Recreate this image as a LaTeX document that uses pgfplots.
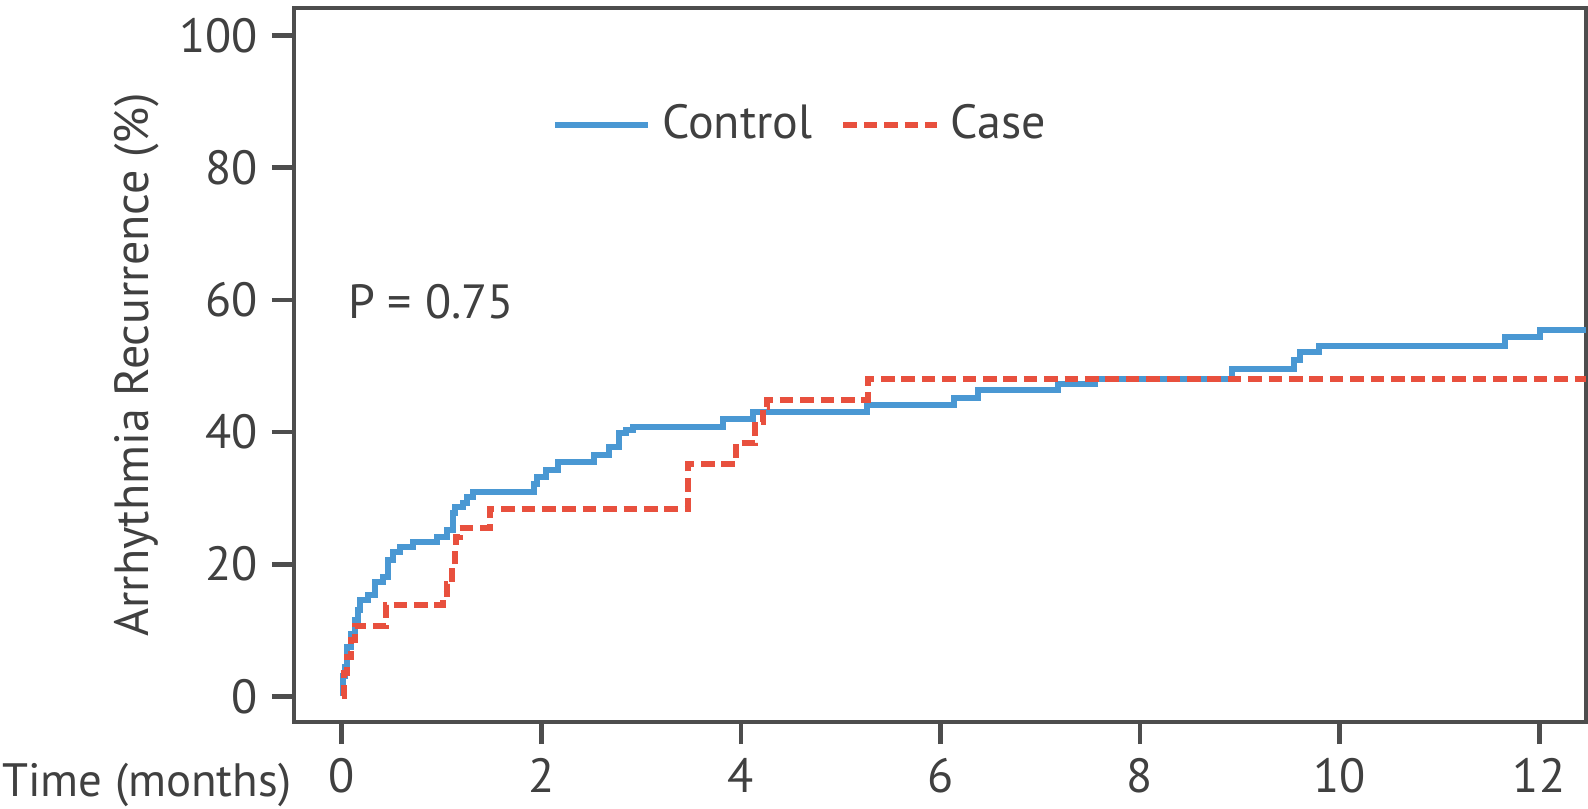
\documentclass[border=0pt]{standalone}
\usepackage{pgfplots}
\pgfplotsset{compat=1.18}
\usepackage{fontspec}
\setmainfont{PT Sans}
\definecolor{ctrlblue}{HTML}{4A98D3}
\definecolor{casered}{HTML}{E8503E}
\definecolor{txtgray}{HTML}{404040}
\definecolor{axgray}{HTML}{4D4D4D}
\begin{document}
\begin{tikzpicture}
\begin{axis}[
  at={(0,0)}, anchor=south west,
  scale only axis, width=323pt, height=178.5pt,
  xmin=-0.48, xmax=12.47, ymin=-3.9, ymax=104.2,
  xtick={0,2,...,12}, ytick={0,20,...,100},
  tick align=outside, tick pos=left,
  major tick length=5.5pt,
  tick style={line width=1.2pt, draw=axgray},
  axis line style={line width=1.2pt, draw=axgray},
  font=\fontsize{12pt}{14pt}\selectfont,
  tick label style={text=txtgray, font=\fontsize{12pt}{14pt}\selectfont},
  /pgf/number format/assume math mode=true,
  clip=false,
  legend style={draw=none, fill=none, inner sep=0pt, anchor=west, at={(0.199,0.8367)},
    legend columns=2, text=txtgray, font=\fontsize{12pt}{14pt}\selectfont,
    /tikz/every even column/.style={column sep=5pt}},
  legend image code/.code={\draw[#1] (0pt,0pt) -- (23.3pt,0pt);},
]
\addplot[const plot, color=ctrlblue, line width=1.5pt] coordinates {
(0,0) (0.01,3) (0.03,4.5) (0.056,7.5) (0.09,9.5) (0.127,11.5) (0.16,13) (0.177,14.5)
(0.26,15.3) (0.327,17.3) (0.41,18.1) (0.46,20.6) (0.51,21.8) (0.58,22.6) (0.71,23.4)
(0.95,24.1) (1.05,25.1) (1.11,27.7) (1.13,28.7) (1.21,29.2) (1.25,30.2) (1.31,30.9)
(1.93,32.2) (1.96,33.2) (2.05,34.2) (2.17,35.5) (2.53,36.5) (2.68,37.7) (2.78,39.8)
(2.85,40.3) (2.92,40.8) (3.82,42.0) (4.12,43.0) (5.26,44.1) (6.14,45.1) (6.38,46.3)
(7.18,47.3) (7.55,48.1) (8.92,49.6) (9.54,50.9) (9.6,52.1) (9.79,53.1) (11.66,54.4)
(12.01,55.4) (12.47,55.4)
};
\addlegendentry{\hspace{0.8pt}Control}
\addplot[const plot, color=casered, line width=1.5pt, dash pattern=on 3.4pt off 1.7pt] coordinates {
(0,0) (0.02,3.5) (0.05,6) (0.09,8.5) (0.127,10.7) (0.44,13.8) (1.01,15.5) (1.05,17.0)
(1.10,19.6) (1.13,22.1) (1.14,24.1) (1.18,25.4) (1.48,28.4) (3.47,35.2) (3.95,38.3)
(4.14,41.5) (4.22,43.8) (4.26,44.9) (5.27,48.1) (12.47,48.1)
};
\addlegendentry{\hspace{0.8pt}Case}
\node[anchor=west, inner sep=0pt, text=txtgray] at ([xshift=13.4pt,yshift=105pt]rel axis cs:0,0) {P = 0.75};
\node[anchor=center, rotate=90, inner sep=0pt, text=txtgray] at ([xshift=-39.25pt]rel axis cs:0,0.5) {Arrhythmia Recurrence (\%)};
\end{axis}
\node[anchor=base east, inner sep=0pt, text=txtgray, font=\fontsize{11.7pt}{14pt}\selectfont] at (-0.5pt,-18.5pt) {Time (months)};
\pgfresetboundingbox
\path[use as bounding box] (-73.5pt,-21.5pt) rectangle (323.5pt,180.5pt);
\end{tikzpicture}
\end{document}
